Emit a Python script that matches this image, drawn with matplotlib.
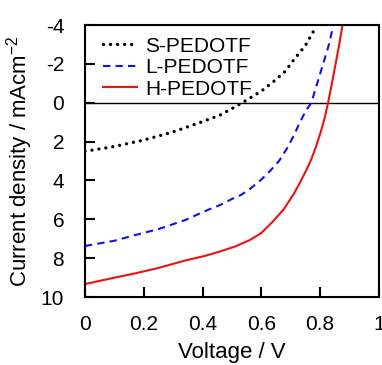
import matplotlib
matplotlib.use("Agg")
import matplotlib.pyplot as plt

# J-V curves
s_voltage = [0, 0.1, 0.2, 0.3, 0.4, 0.46, 0.5, 0.535, 0.6, 0.64, 0.68, 0.71, 0.75, 0.78]
s_current = [2.5, 2.25, 1.92, 1.5, 0.97, 0.63, 0.3, 0.0, -0.6, -1.07, -1.6, -2.2, -2.95, -3.75]

l_voltage = [0, 0.1, 0.17, 0.25, 0.34, 0.42, 0.46, 0.5, 0.53, 0.56, 0.6, 0.63, 0.66, 0.687,
             0.71, 0.73, 0.75, 0.77, 0.79, 0.81, 0.83, 0.845]
l_current = [7.37, 7.1, 6.81, 6.5, 6.04, 5.5, 5.26, 4.95, 4.75, 4.45, 3.95, 3.5, 3.0, 2.35,
             1.7, 1.04, 0.45, 0.0, -1.0, -2.0, -3.0, -4.0]

h_voltage = [0, 0.1, 0.17, 0.25, 0.34, 0.41, 0.46, 0.51, 0.56, 0.6, 0.64, 0.675, 0.71, 0.735,
             0.755, 0.77, 0.785, 0.8, 0.815, 0.827, 0.84, 0.855, 0.866, 0.876]
h_current = [9.33, 9.0, 8.78, 8.5, 8.12, 7.87, 7.65, 7.4, 7.07, 6.7, 6.1, 5.5, 4.7, 4.0,
             3.4, 2.9, 2.3, 1.6, 0.8, 0.0, -1.0, -2.2, -3.1, -4.0]

labels = ["S-PEDOTF", "L-PEDOTF", "H-PEDOTF"]
x_ticks = [0, 0.2, 0.4, 0.6, 0.8, 1]
x_tick_labels = ["0", "0.2", "0.4", "0.6", "0.8", "1"]
y_ticks = [-4, -2, 0, 2, 4, 6, 8, 10]

plt.rcParams["font.family"] = ["Liberation Sans", "DejaVu Sans"]
plt.rcParams["axes.unicode_minus"] = False
plt.rcParams["mathtext.fontset"] = "custom"
plt.rcParams["mathtext.rm"] = "Liberation Sans"

fig = plt.figure(figsize=(3.82, 3.65), dpi=100)
ax = fig.add_axes([0.2225, 0.186, 0.7695, 0.7455])

ax.axhline(0, color="black", linewidth=1.0, zorder=1)
ax.plot(s_voltage, s_current, color="black", linestyle=(0, (0.01, 2.1)), linewidth=2.4,
        dash_capstyle="round", label=labels[0])
ax.plot(l_voltage, l_current, color="#1010ee", linestyle=(0, (3.5, 2.5)), linewidth=1.5, label=labels[1])
ax.plot(h_voltage, h_current, color="#ee1111", linewidth=1.5, label=labels[2])

ax.set_xlim(0, 1)
ax.set_ylim(10, -4)
ax.set_xticks(x_ticks)
ax.set_xticklabels(x_tick_labels)
ax.set_yticks(y_ticks)
ax.tick_params(direction="in", length=7, width=1.5, labelsize=15)
ax.tick_params(axis="y", pad=15)
ax.tick_params(axis="x", pad=13)
for spine in ax.spines.values():
    spine.set_linewidth(1.5)

ax.set_xlabel("Voltage / V", fontsize=16, labelpad=6)
ax.set_ylabel("Current density / mAcm$^{\\mathregular{-2}}$", fontsize=16, labelpad=4)

ax.legend(loc="upper left", bbox_to_anchor=(0.0, 1.022), frameon=False, fontsize=15,
          handlelength=1.65, handletextpad=0.4, labelspacing=0.12, borderaxespad=0.45)

fig.savefig("out.png", dpi=100)
